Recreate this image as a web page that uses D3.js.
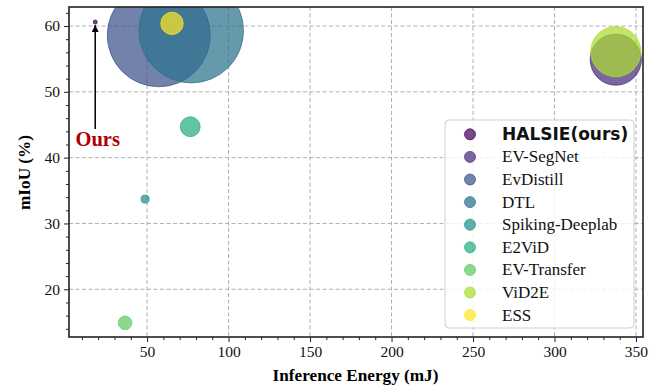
<!DOCTYPE html>
<html><head><meta charset="utf-8">
<script src="https://cdn.jsdelivr.net/npm/d3@7"></script>
<style>body{margin:0;background:#fff}svg{display:block}</style>
</head><body>
<script>
const models = ["HALSIE(ours)","EV-SegNet","EvDistill","DTL","Spiking-Deeplab","E2ViD","EV-Transfer","ViD2E","ESS"];
const energy = [18.2, 337.6, 57.2, 77.1, 48.8, 76.5, 36.5, 337.6, 65.3];
const miou   = [60.6, 54.9, 58.6, 59.3, 33.7, 44.7, 14.9, 56.1, 60.4];
const bubbleSize = [0.15, 24, 97, 100, 0.6, 3.6, 1.7, 23, 4.6];
const xTicks = [50,100,150,200,250,300,350];
const yTicks = [20,30,40,50,60];
const colors = ["#440154","#472d7b","#3b528b","#2c728e","#21918c","#27ad81","#5ec962","#aadc32","#fde725"];

const W=657,H=385, m={l:69,r:14,t:7,b:48};
const svg=d3.select("body").append("svg").attr("width",W).attr("height",H);
const x=d3.scaleLinear().domain([2.1,354.3]).range([m.l,W-m.r]);
const y=d3.scaleLinear().domain([12.75,62.89]).range([H-m.b,m.t]);
const r=d3.scaleSqrt().domain([0,100]).range([0,52.3]);

svg.append("defs").append("clipPath").attr("id","clip").append("rect")
  .attr("x",m.l).attr("y",m.t).attr("width",W-m.l-m.r).attr("height",H-m.t-m.b);

// grid
const g=svg.append("g");
g.selectAll(".gx").data(xTicks).join("line").attr("x1",d=>x(d)).attr("x2",d=>x(d))
 .attr("y1",m.t).attr("y2",H-m.b).attr("stroke","#b0b0b0").attr("stroke-dasharray","4,2.5");
g.selectAll(".gy").data(yTicks).join("line").attr("y1",d=>y(d)).attr("y2",d=>y(d))
 .attr("x1",m.l).attr("x2",W-m.r).attr("stroke","#b0b0b0").attr("stroke-dasharray","4,2.5");

// bubbles
svg.append("g").attr("clip-path","url(#clip)").selectAll("circle").data(models).join("circle")
 .attr("cx",(d,i)=>x(energy[i])).attr("cy",(d,i)=>y(miou[i])).attr("r",(d,i)=>r(bubbleSize[i]))
 .attr("fill",(d,i)=>colors[i]).attr("fill-opacity",0.72)
 .attr("stroke",(d,i)=>colors[i]).attr("stroke-opacity",0.72).attr("stroke-width",1);

// axes
const ff="'Liberation Serif','Times New Roman',serif";
const xAxis=svg.append("g").attr("transform",`translate(0,${H-m.b})`)
 .call(d3.axisBottom(x).tickValues(xTicks).tickSize(5).tickPadding(4));
const xMinor=svg.append("g").attr("transform",`translate(0,${H-m.b})`)
 .call(d3.axisBottom(x).tickValues(d3.range(10,351,10).filter(v=>v%50)).tickSize(3).tickFormat(""));
const yAxis=svg.append("g").attr("transform",`translate(${m.l},0)`)
 .call(d3.axisLeft(y).tickValues(yTicks).tickSize(5).tickPadding(4));
const yMinor=svg.append("g").attr("transform",`translate(${m.l},0)`)
 .call(d3.axisLeft(y).tickValues(d3.range(14,63,2).filter(v=>v%10)).tickSize(3).tickFormat(""));
[xAxis,xMinor,yAxis,yMinor].forEach(a=>{a.select(".domain").remove();a.selectAll("line").attr("stroke","#222").attr("stroke-width",1);});
[xAxis,yAxis].forEach(a=>a.selectAll("text").attr("font-family",ff).attr("font-size",15.5).attr("fill","#111"));
svg.append("rect").attr("x",m.l).attr("y",m.t).attr("width",W-m.l-m.r).attr("height",H-m.t-m.b)
 .attr("fill","none").attr("stroke","#222").attr("stroke-width",1.6);

svg.append("text").attr("x",355.5).attr("y",381).attr("text-anchor","middle")
 .attr("font-family",ff).attr("font-weight","bold").attr("font-size",17.2).text("Inference Energy (mJ)");
svg.append("text").attr("transform",`translate(30,172.5) rotate(-90)`).attr("text-anchor","middle")
 .attr("font-family",ff).attr("font-weight","bold").attr("font-size",17.2).text("mIoU (%)");

// annotation
const ax=x(energy[0]), ay=y(miou[0]);
svg.append("defs").append("marker").attr("id","ah").attr("viewBox","0 0 10 10").attr("refX",10).attr("refY",5)
 .attr("markerWidth",7).attr("markerHeight",7).attr("markerUnits","userSpaceOnUse").attr("orient","auto")
 .append("path").attr("d","M0,0L10,5L0,10z").attr("fill","#000");
svg.append("line").attr("x1",ax).attr("y1",129).attr("x2",ax).attr("y2",ay+3)
 .attr("stroke","#000").attr("stroke-width",1.5).attr("marker-end","url(#ah)");
svg.append("text").attr("x",97.7).attr("y",146).attr("text-anchor","middle").attr("font-family",ff)
 .attr("font-weight","bold").attr("font-size",20.5).attr("fill","#b00000").text("Ours");

// legend
const lg=svg.append("g");
lg.append("rect").attr("x",445).attr("y",120).attr("width",189).attr("height",208).attr("rx",4)
 .attr("fill","#fff").attr("fill-opacity",0.82).attr("stroke","#d0d0d0");
models.forEach((mname,i)=>{
  const cy=134.3+i*22.6;
  lg.append("circle").attr("cx",470).attr("cy",cy).attr("r",5.5).attr("fill",colors[i]).attr("fill-opacity",0.72)
    .attr("stroke",colors[i]).attr("stroke-opacity",0.72);
  const t=lg.append("text").attr("x",502).attr("y",cy+5.5).attr("fill","#111").text(mname);
  if(i===0) t.attr("font-family","'DejaVu Sans',sans-serif").attr("font-weight","bold").attr("font-size",17);
  else t.attr("font-family",ff).attr("font-size",17);
});
</script>
</body></html>
